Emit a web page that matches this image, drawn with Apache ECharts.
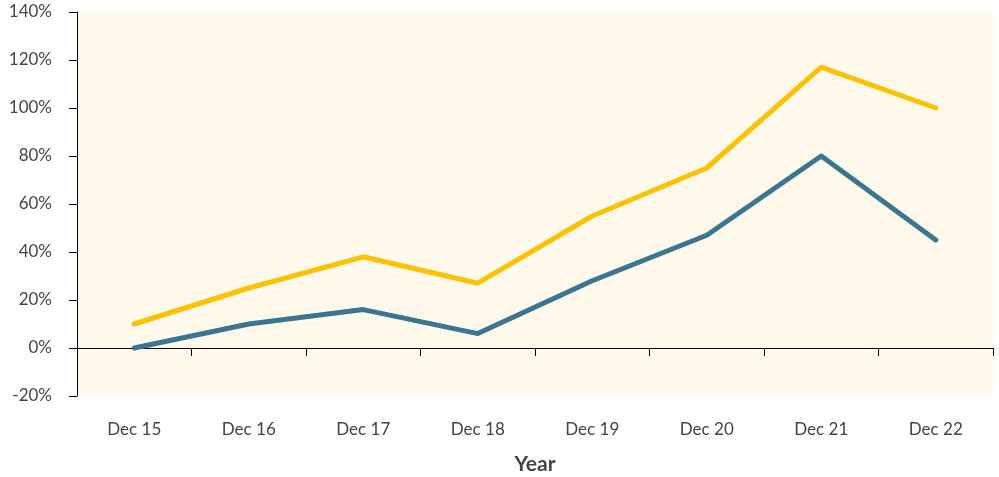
<!DOCTYPE html>
<html>
<head>
<meta charset="utf-8">
<script src="https://cdn.jsdelivr.net/npm/echarts@6/dist/echarts.min.js"></script>
<style>
  html, body { margin: 0; padding: 0; background: #fff; }
  #chart { width: 999px; height: 477px; }
</style>
</head>
<body>
<div id="chart"></div>
<script>
var years = ['Dec 15', 'Dec 16', 'Dec 17', 'Dec 18', 'Dec 19', 'Dec 20', 'Dec 21', 'Dec 22'];
var yellowSeries = [10, 25, 38, 27, 55, 75, 117, 100];
var tealSeries = [0, 10, 16, 6, 28, 47, 80, 45];

var myChart = echarts.init(document.getElementById('chart'));
var option = {
  animation: false,
  textStyle: { fontFamily: 'Lato' },
  grid: {
    left: 77, right: 6, top: 12, bottom: 81,
    outerBoundsMode: 'none',
    containLabel: false,
    show: true, backgroundColor: '#fef9ea', borderWidth: 0
  },
  xAxis: {
    type: 'category',
    data: years,
    boundaryGap: true,
    name: 'Year',
    nameLocation: 'middle',
    nameGap: 58,
    nameTextStyle: { fontSize: 21, fontWeight: 'bold', color: '#444' },
    axisLine: { onZero: true, lineStyle: { color: '#000', width: 1 } },
    axisTick: { show: true, length: 8, lineStyle: { color: '#000' } },
    axisLabel: { margin: 25, fontSize: 17, color: '#444' }
  },
  yAxis: {
    type: 'value',
    min: -20, max: 140, interval: 20,
    axisLine: { show: true, lineStyle: { color: '#000', width: 1 } },
    axisTick: { show: true, length: 8, lineStyle: { color: '#000' } },
    splitLine: { show: false },
    axisLabel: { formatter: '{value}%', fontSize: 17, color: '#444', margin: 25, padding: [5, 0, 0, 0] }
  },
  series: [
    {
      type: 'line', data: yellowSeries, symbol: 'none',
      lineStyle: { color: '#fcc200', width: 5, cap: 'round', join: 'round' }
    },
    {
      type: 'line', data: tealSeries, symbol: 'none',
      lineStyle: { color: '#3b7590', width: 5, cap: 'round', join: 'round' }
    }
  ]
};
myChart.setOption(option);
</script>
</body>
</html>
